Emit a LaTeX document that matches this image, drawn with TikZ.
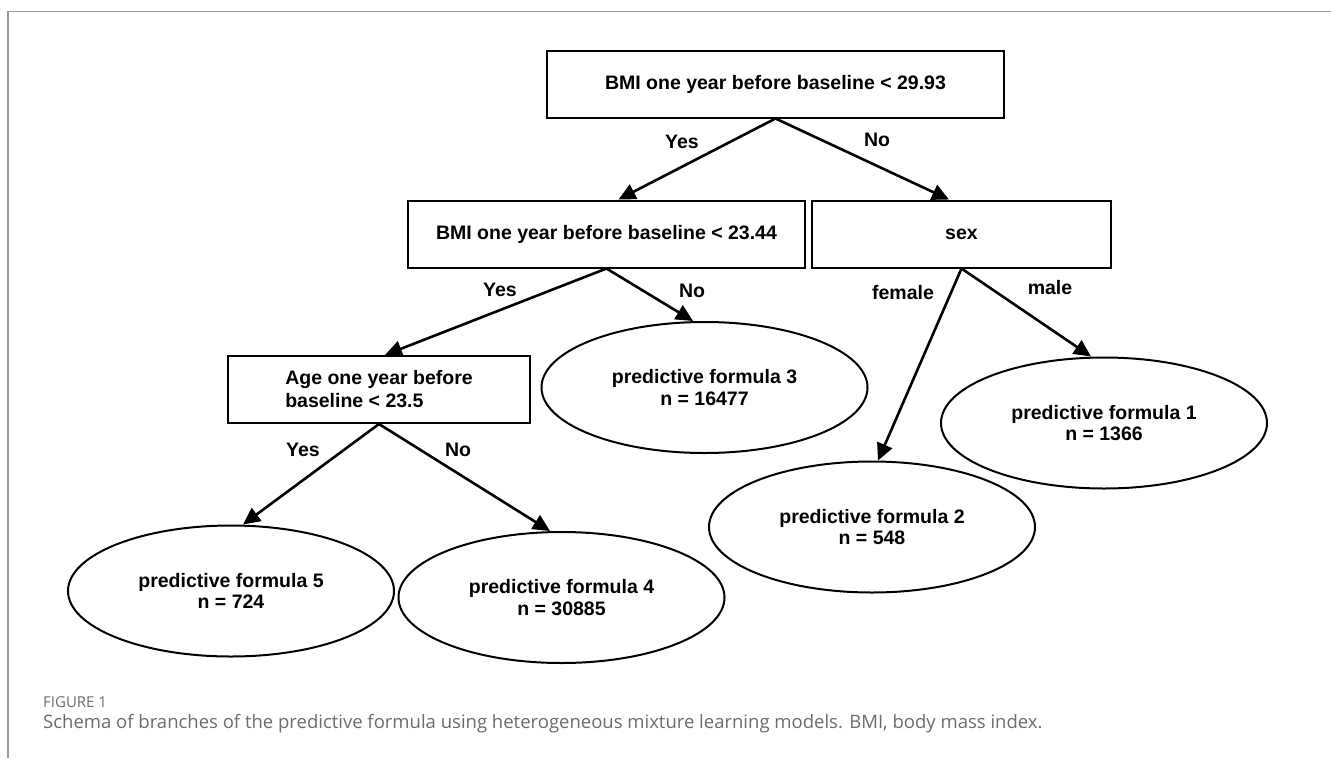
\documentclass[tikz,border=0pt]{standalone}
\usepackage{fontspec}
\setmainfont{Liberation Sans}
\newfontfamily\captionfont{Open Sans}
\usetikzlibrary{positioning, arrows.meta, shapes.geometric}

\begin{document}
\begin{tikzpicture}[
    x=1pt, y=-1pt,
    test/.style={rectangle, draw, line width=2pt, inner sep=0pt,
                 minimum height=67pt, align=center,
                 font=\fontsize{19.5}{23}\selectfont\bfseries},
    leaf/.style={ellipse, draw, line width=2pt, inner sep=0pt,
                 minimum width=326pt, minimum height=131pt, align=center,
                 font=\fontsize{19.5}{21.5}\selectfont\bfseries},
    branch/.style={inner sep=1pt, font=\fontsize{19.5}{23.5}\selectfont\bfseries},
    arrow/.style={-{Triangle[length=17pt, width=16pt]}, line width=2.6pt},
    frame/.style={draw=black!40, line width=1.2pt},
    capt/.style={anchor=west, inner sep=0pt, text=black!58}
]
  \useasboundingbox (0,0) rectangle (1331,758);
  \draw[frame] (1331,11.5) -- (8,11.5) -- (8,758);

  % split nodes
  \node[test, minimum width=457pt] (root) at (775.5,84) {BMI one year before baseline < 29.93};
  \node[test, minimum width=397pt] (bmi) at (606.5,234) {BMI one year before baseline < 23.44};
  \node[test, minimum width=299pt] (sex) at (961.5,234) {sex};
  \node[test, minimum width=302pt, align=left] (age) at (379,389.5) {Age one year before\\baseline < 23.5};

  % leaves
  \node[leaf] (f3) at (704.5,387.5) {predictive formula 3\\n = 16477};
  \node[leaf] (f1) at (1104,423) {predictive formula 1\\n = 1366};
  \node[leaf] (f2) at (872,527) {predictive formula 2\\n = 548};
  \node[leaf] (f5) at (231,591) {predictive formula 5\\n = 724};
  \node[leaf] (f4) at (561.5,597.5) {predictive formula 4\\n = 30885};

  \draw[arrow] (root.south) -- ([xshift=12pt]bmi.north);
  \draw[arrow] (root.south) -- ([xshift=-12.5pt]sex.north);
  \draw[arrow] (bmi.south) -- ([xshift=6pt]age.north);
  \draw[arrow] (bmi.south) -- ([xshift=-11.5pt]f3.north);
  \draw[arrow] (sex.south) -- ([xshift=6pt]f2.north);
  \draw[arrow] (sex.south) -- ([xshift=-13pt]f1.north);
  \draw[arrow] (age.south) -- ([xshift=12pt]f5.north);
  \draw[arrow] (age.south) -- ([xshift=-11.5pt]f4.north);

  % branch labels
  \node[branch] (yes1) at (682,142) {Yes};
  \node[branch] (no1) at (877,140) {No};
  \node[branch] (yes2) at (500,290) {Yes};
  \node[branch] (no2) at (692,291) {No};
  \node[branch] (female) at (903,293) {female};
  \node[branch] (male) at (1050,288) {male};
  \node[branch] (yes3) at (303,450) {Yes};
  \node[branch] (no3) at (458,450) {No};

  % caption
  \node[capt, font=\captionfont\fontsize{15}{17}\selectfont] (fig) at (43,702) {FIGURE 1};
  \node[capt, font=\captionfont\fontsize{18.5}{21}\selectfont] (cap) at (43,724)
    {Schema of branches of the predictive formula using heterogeneous mixture learning models. BMI, body mass index.};
\end{tikzpicture}
\end{document}
